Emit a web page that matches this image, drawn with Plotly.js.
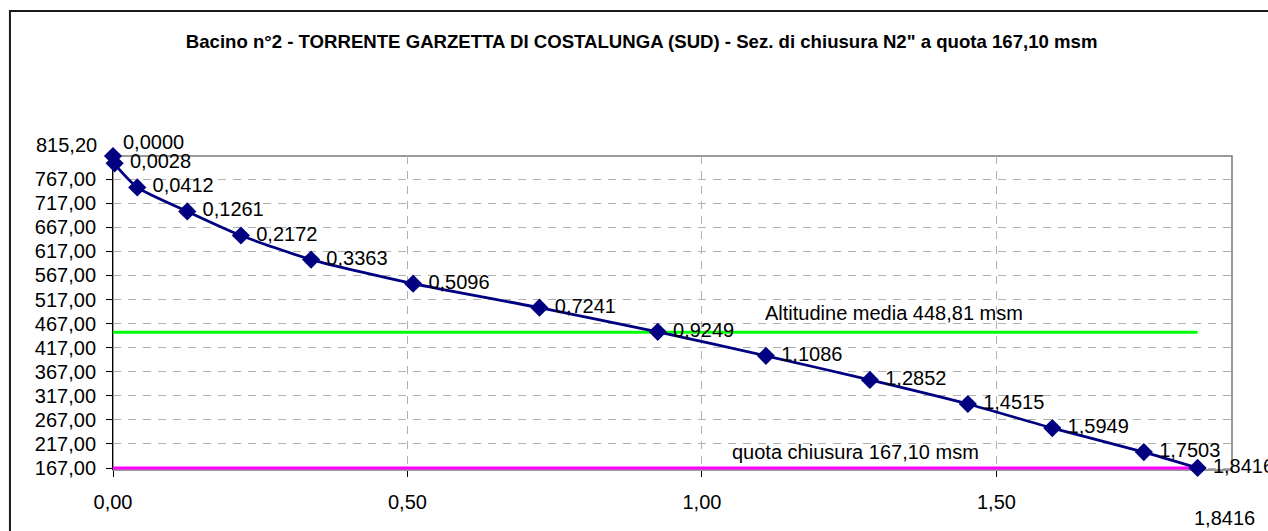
<!DOCTYPE html>
<html>
<head>
<meta charset="utf-8">
<script src="https://cdn.plot.ly/plotly-3.0.1.min.js"></script>
<style>
  html, body { margin: 0; padding: 0; background: #ffffff; }
  #chart { width: 1268px; height: 531px; }
</style>
</head>
<body>
<div id="chart"></div>
<script>
// ---- data ----
const areas = [0.0000, 0.0028, 0.0412, 0.1261, 0.2172, 0.3363, 0.5096, 0.7241, 0.9249, 1.1086, 1.2852, 1.4515, 1.5949, 1.7503, 1.8416];
const elevations = [815.20, 800, 750, 700, 650, 600, 550, 500, 450, 400, 350, 300, 250, 200, 167.10];
const meanAltitude = 448.81;
const closingAltitude = 167.10;
const yTickValues = [167, 217, 267, 317, 367, 417, 467, 517, 567, 617, 667, 717, 767, 815.20];
const xTickValues = [0, 0.5, 1.0, 1.5];
const titleText = 'Bacino n°2 - TORRENTE GARZETTA DI COSTALUNGA (SUD) - Sez. di chiusura N2" a quota 167,10 msm';
const meanLabel = 'Altitudine media 448,81 msm';
const closingLabel = 'quota chiusura 167,10 msm';

const fmt = (v, d) => v.toFixed(d).replace('.', ',');
const areaMax = areas[areas.length - 1];
const topElev = elevations[0];

const FONT = 'Liberation Sans, Arial, sans-serif';

const traces = [
  {
    x: [0, areaMax], y: [meanAltitude, meanAltitude],
    mode: 'lines', line: { color: '#00ff00', width: 3 },
    hoverinfo: 'skip', showlegend: false
  },
  {
    x: [0, areaMax], y: [closingAltitude, closingAltitude],
    mode: 'lines', line: { color: '#ff00ff', width: 3 },
    hoverinfo: 'skip', showlegend: false
  },
  {
    x: areas, y: elevations,
    mode: 'lines+markers+text',
    line: { color: '#000080', width: 2.8, shape: 'spline', smoothing: 0.6 },
    marker: { symbol: 'diamond', size: 14, color: '#000080' },
    text: areas.map((v, i) => i === 0 ? '' : '\u00a0' + fmt(v, 4)),
    textposition: 'middle right',
    textfont: { family: FONT, size: 20, color: '#000000' },
    cliponaxis: false, showlegend: false
  }
];

const layout = {
  width: 1268, height: 531,
  margin: { l: 113, r: 36, t: 156, b: 61 },
  paper_bgcolor: '#ffffff', plot_bgcolor: '#ffffff',
  separators: ',.',
  font: { family: FONT, size: 20, color: '#000000' },
  showlegend: false,
  title: {
    text: '<b>' + titleText + '</b>',
    font: { family: FONT, size: 18.6, color: '#000000' },
    x: 0.506, xref: 'container', xanchor: 'center',
    y: 1 - 41 / 531, yref: 'container', yanchor: 'middle'
  },
  xaxis: {
    range: [0, 1.9], tickmode: 'array', tickvals: xTickValues, tickformat: '.2f',
    showgrid: true, gridcolor: '#b0b0b0', gridwidth: 1, griddash: '8px,7px',
    zeroline: false, showline: false,
    ticks: 'outside', ticklen: 6, tickcolor: '#000000',
    tickfont: { family: FONT, size: 20, color: '#000000' },
    ticklabelstandoff: 8, layer: 'below traces'
  },
  yaxis: {
    range: [162.84, topElev], tickmode: 'array', tickvals: yTickValues,
    ticktext: yTickValues.map((v, i) => i === yTickValues.length - 1 ? '' : fmt(v, 2)),
    showgrid: true, gridcolor: '#b0b0b0', gridwidth: 1, griddash: '8px,7px',
    zeroline: false, showline: true, linecolor: '#000000', linewidth: 1,
    ticks: 'outside', ticklen: 6, tickcolor: '#000000',
    tickfont: { family: FONT, size: 20, color: '#000000' },
    ticklabelstandoff: 6, layer: 'below traces'
  },
  shapes: [
    { type: 'rect', xref: 'paper', yref: 'paper', x0: 0, x1: 1, y0: 0, y1: 1,
      line: { color: '#7a7a7a', width: 1.5 }, fillcolor: 'rgba(0,0,0,0)', layer: 'below' },
    { type: 'rect', xref: 'paper', yref: 'paper', x0: -0.0921, x1: 1.06, y0: -0.25, y1: 1.4615,
      line: { color: '#1a1a1a', width: 2 }, fillcolor: 'rgba(0,0,0,0)', layer: 'below' }
  ],
  annotations: [
    { x: 0, y: topElev, xref: 'x', yref: 'y', text: fmt(topElev, 2), showarrow: false,
      xanchor: 'right', yanchor: 'middle', xshift: -14, yshift: 11,
      font: { family: FONT, size: 20, color: '#000000' } },
    { x: areas[0], y: elevations[0], xref: 'x', yref: 'y', text: fmt(areas[0], 4), showarrow: false,
      xanchor: 'left', yanchor: 'middle', xshift: 8, yshift: 14,
      font: { family: FONT, size: 20, color: '#000000' } },
    { x: areaMax, y: 0, xref: 'x', yref: 'paper', text: fmt(areaMax, 4), showarrow: false,
      xanchor: 'left', yanchor: 'middle', xshift: -6, yshift: -48,
      font: { family: FONT, size: 20, color: '#000000' } },
    { x: 1.104, y: 489, xref: 'x', yref: 'y', text: meanLabel, showarrow: false,
      xanchor: 'left', yanchor: 'middle',
      font: { family: FONT, size: 20, color: '#000000' } },
    { x: 1.048, y: 200, xref: 'x', yref: 'y', text: closingLabel, showarrow: false,
      xanchor: 'left', yanchor: 'middle',
      font: { family: FONT, size: 20, color: '#000000' } }
  ]
};

Plotly.newPlot('chart', traces, layout, { staticPlot: true, displayModeBar: false });
</script>
</body>
</html>
